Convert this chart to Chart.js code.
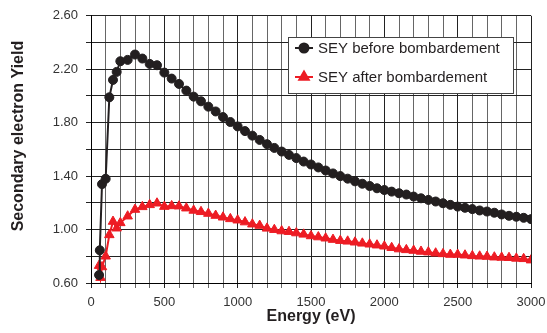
<!DOCTYPE html>
<html>
<head>
<meta charset="utf-8">
<script src="https://cdn.jsdelivr.net/npm/chart.js@4.4.1/dist/chart.umd.min.js"></script>
<style>
  html, body { margin: 0; padding: 0; background: #fff; }
  canvas { display: block; }
</style>
</head>
<body>
<canvas id="seyChart" width="547" height="333"></canvas>
<script>
// Energies (eV) - the first few points differ between the two curves
const energyHeadBefore = [55, 60, 75, 100, 125, 150, 175, 200];
const energyHeadAfter = [55, 65, 75, 100, 125, 150, 175, 200];
const energyTail = [250, 300, 350, 400, 450, 500, 550, 600, 650, 700, 750, 800, 850, 900, 950, 1000,
  1050, 1100, 1150, 1200, 1250, 1300, 1350, 1400, 1450, 1500, 1550, 1600, 1650, 1700, 1750, 1800, 1850, 1900, 1950, 2000,
  2050, 2100, 2150, 2200, 2250, 2300, 2350, 2400, 2450, 2500, 2550, 2600, 2650, 2700, 2750, 2800, 2850, 2900, 2950, 3000];

// SEY before bombardement
const seyBefore = [0.66, 0.845, 1.34, 1.38, 1.99, 2.12, 2.18, 2.26,
  2.27, 2.31, 2.28, 2.24, 2.23, 2.175, 2.13, 2.09, 2.04, 1.995, 1.96, 1.92, 1.884, 1.842, 1.805, 1.772,
  1.737, 1.703, 1.671, 1.639, 1.611, 1.584, 1.559, 1.535, 1.509, 1.487, 1.465, 1.442, 1.42, 1.40, 1.381, 1.361, 1.343, 1.326, 1.309, 1.296,
  1.284, 1.272, 1.262, 1.247, 1.234, 1.222, 1.21, 1.197, 1.185, 1.172, 1.163, 1.153, 1.143, 1.135, 1.126, 1.113, 1.103, 1.096, 1.088, 1.078];

// SEY after bombardement
const seyAfter = [0.73, 0.64, 0.72, 0.80, 0.96, 1.06, 1.01, 1.05,
  1.10, 1.15, 1.17, 1.185, 1.197, 1.172, 1.177, 1.175, 1.16, 1.143, 1.133, 1.12, 1.105, 1.092, 1.08, 1.07,
  1.056, 1.04, 1.03, 1.009, 0.999, 0.989, 0.984, 0.974, 0.964, 0.952, 0.944, 0.935, 0.925, 0.917, 0.912, 0.905, 0.897, 0.89, 0.883, 0.875,
  0.864, 0.854, 0.848, 0.843, 0.836, 0.831, 0.823, 0.818, 0.813, 0.813, 0.808, 0.803, 0.80, 0.798, 0.793, 0.791, 0.789, 0.784, 0.781, 0.771];

const seriesLabels = ["SEY before bombardement", "SEY after bombardement"];
const xTickLabels = [0, 500, 1000, 1500, 2000, 2500, 3000];
const yTickLabels = [0.6, 1.0, 1.4, 1.8, 2.2, 2.6];

const blackColor = "#231f20";
const redColor = "#ed1c24";
const fontFamily = "'Liberation Sans', Arial, sans-serif";

function toPoints(xs, ys) {
  return xs.map((x, i) => ({ x: x, y: ys[i] }));
}

// Legend drawn inside the plot area, like the original
const insideLegend = {
  id: "insideLegend",
  afterDraw(chart) {
    const ctx = chart.ctx;
    const left = 288, top = 37, right = 513, bottom = 93;
    ctx.save();
    ctx.fillStyle = "#fff";
    ctx.fillRect(left, top, right - left, bottom - top);
    ctx.strokeStyle = "#444";
    ctx.lineWidth = 1;
    ctx.strokeRect(left + 0.5, top + 0.5, right - left, bottom - top);

    const rows = [48, 77];
    chart.data.datasets.forEach((ds, i) => {
      const y = rows[i];
      ctx.strokeStyle = ds.borderColor;
      ctx.lineWidth = 2;
      ctx.beginPath();
      ctx.moveTo(295, y);
      ctx.lineTo(313, y);
      ctx.stroke();
      Chart.helpers.drawPoint(ctx, {
        pointStyle: ds.pointStyle,
        radius: ds.pointRadius,
        rotation: 0,
        borderWidth: 1
      }, 304, y);
      ctx.fillStyle = ds.borderColor;
      ctx.fill();
      ctx.fillStyle = "#231f20";
      ctx.font = "15px " + fontFamily;
      ctx.textBaseline = "middle";
      ctx.textAlign = "left";
      ctx.fillText(ds.label, 318, y + 1);
    });
    ctx.restore();
  }
};

const ctx = document.getElementById("seyChart").getContext("2d");
const seyChart = new Chart(ctx, {
  type: "scatter",
  data: {
    datasets: [{
      label: seriesLabels[0],
      data: toPoints(energyHeadBefore.concat(energyTail), seyBefore),
      showLine: true,
      borderColor: blackColor,
      backgroundColor: blackColor,
      borderWidth: 2,
      pointStyle: "circle",
      pointRadius: 4.5,
      pointBorderWidth: 1,
      pointBorderColor: blackColor,
      pointBackgroundColor: blackColor
    }, {
      label: seriesLabels[1],
      data: toPoints(energyHeadAfter.concat(energyTail), seyAfter),
      showLine: true,
      borderColor: redColor,
      backgroundColor: redColor,
      borderWidth: 2,
      pointStyle: "triangle",
      pointRadius: 5.5,
      pointBorderWidth: 1,
      pointBorderColor: redColor,
      pointBackgroundColor: redColor
    }]
  },
  options: {
    responsive: false,
    animation: false,
    devicePixelRatio: 1,
    layout: { padding: { left: 0, right: 0, top: 14, bottom: 0 } },
    plugins: {
      legend: { display: false },
      tooltip: { enabled: false }
    },
    scales: {
      x: {
        type: "linear",
        min: 0,
        max: 3000,
        // fixed axis box so the plot area lands where the original has it
        afterFit: (scale) => {
          scale.height = 50;
          scale.paddingRight = 16;
        },
        border: { color: "#000", width: 1 },
        grid: {
          color: (c) => (c.tick && c.tick.value % 500 === 0 ? "#222" : "#666"),
          tickLength: 5
        },
        ticks: {
          stepSize: 100,
          autoSkip: false,
          maxRotation: 0,
          padding: 7,
          color: "#333",
          font: { family: fontFamily, size: 13 },
          callback: (v) => (xTickLabels.includes(v) ? String(v) : "")
        },
        title: {
          display: true,
          text: "Energy (eV)",
          color: "#231f20",
          padding: { top: 0, bottom: 7 },
          font: { family: fontFamily, size: 16, weight: "bold" }
        }
      },
      y: {
        min: 0.6,
        max: 2.6,
        afterFit: (scale) => {
          scale.width = 91;
        },
        border: { color: "#000", width: 1 },
        grid: {
          color: "#222",
          tickLength: 5
        },
        ticks: {
          stepSize: 0.2,
          padding: 8,
          color: "#333",
          font: { family: fontFamily, size: 13 },
          callback: (v) => (yTickLabels.some((t) => Math.abs(t - v) < 1e-6) ? v.toFixed(2) : "")
        },
        title: {
          display: true,
          // leading spaces nudge the centred title upwards, as in the original
          text: "      Secondary electron Yield",
          color: "#231f20",
          padding: { top: 9, bottom: 0 },
          font: { family: fontFamily, size: 16, weight: "bold" }
        }
      }
    }
  },
  plugins: [insideLegend]
});
</script>
</body>
</html>
